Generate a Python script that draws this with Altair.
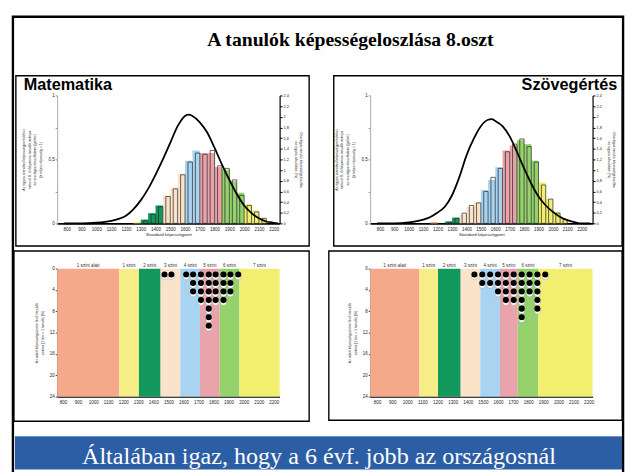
import altair as alt
import pandas as pd

# ---------------- data ----------------
LEVELS = ["1 szint alatt", "1 szint", "2 szint", "3 szint", "4 szint", "5 szint", "6 szint", "7 szint"]
LEVEL_COLORS = ["#f6a88b", "#f6ed86", "#12985c", "#fbe3c9", "#a8d4f2", "#e9a3aa", "#95d26c", "#f2ee70"]

X_TICKS = [800, 900, 1000, 1100, 1200, 1300, 1400, 1500, 1600, 1700, 1800, 1900, 2000, 2100, 2200]
SHARE_TICKS = [0, 0.25, 0.5, 0.75, 1]
PCT_TICKS = [0, 0.2, 0.4, 0.6, 0.8, 1, 1.2, 1.4, 1.6, 1.8, 2, 2.2, 2.4]
COUNT_TICKS = [0, 4, 8, 12, 16, 20, 24]
BIN_W = 50

# Matematika histogram (bin start, school bar, outline bar, level index)
M_BINS = [1250, 1300, 1350, 1400, 1450, 1500, 1550, 1600, 1650, 1700, 1750, 1800, 1850, 1900, 1950, 2000, 2050, 2100]
M_FILL = [0.012, 0.03, 0.08, 0.14, 0.22, 0.28, 0.39, 0.49, 0.57, 0.55, 0.55, 0.44, 0.42, 0.33, 0.24, 0.15, 0.10, 0.04]
M_OUTLINE = [0.0, 0.02, 0.07, 0.13, 0.21, 0.27, 0.38, 0.48, 0.55, 0.54, 0.57, 0.45, 0.43, 0.34, 0.22, 0.14, 0.09, 0.04]
M_BIN_LEVEL = [1, 2, 2, 2, 3, 3, 3, 4, 4, 5, 5, 5, 6, 6, 6, 7, 7, 7]
M_CURVE_X = [780, 900, 1000, 1100, 1150, 1200, 1250, 1300, 1350, 1400, 1450, 1500, 1550, 1600, 1625,
             1650, 1700, 1750, 1800, 1850, 1900, 1950, 2000, 2050, 2100, 2150, 2200, 2230]
M_CURVE_Y = [0.0, 0.0, 0.005, 0.02, 0.035, 0.06, 0.11, 0.18, 0.27, 0.38, 0.50, 0.63, 0.76, 0.84, 0.85,
             0.84, 0.79, 0.71, 0.59, 0.46, 0.34, 0.23, 0.14, 0.08, 0.04, 0.015, 0.005, 0.0]

# Szövegértés histogram
S_BINS = [1150, 1200, 1250, 1300, 1350, 1400, 1450, 1500, 1550, 1600, 1650, 1700, 1750, 1800, 1850, 1900, 1950, 2000, 2050]
S_FILL = [0.01, 0.0, 0.015, 0.045, 0.07, 0.13, 0.17, 0.26, 0.34, 0.44, 0.57, 0.61, 0.65, 0.62, 0.49, 0.32, 0.19, 0.09, 0.03]
S_OUTLINE = [0.0, 0.0, 0.01, 0.04, 0.08, 0.14, 0.16, 0.25, 0.36, 0.43, 0.56, 0.62, 0.66, 0.60, 0.48, 0.30, 0.19, 0.08, 0.03]
S_BIN_LEVEL = [0, 1, 2, 2, 3, 3, 3, 4, 4, 4, 5, 5, 6, 6, 6, 7, 7, 7, 7]
S_CURVE_X = [780, 900, 1000, 1100, 1150, 1200, 1250, 1300, 1350, 1400, 1450, 1500, 1550, 1575, 1600,
             1650, 1700, 1750, 1800, 1850, 1900, 1950, 2000, 2050, 2100, 2150, 2200, 2260]
S_CURVE_Y = [0.0, 0.0, 0.008, 0.03, 0.05, 0.085, 0.13, 0.22, 0.36, 0.53, 0.66, 0.76, 0.81, 0.815, 0.80,
             0.76, 0.68, 0.56, 0.43, 0.31, 0.21, 0.14, 0.09, 0.05, 0.025, 0.01, 0.0, 0.0]

# level bands (score limits) and students (one circle each) in the lower panels
M_BAND_EDGES = [761, 1173, 1304, 1448, 1579, 1710, 1841, 1972, 2239]
S_BAND_EDGES = [754, 1080, 1203, 1353, 1483, 1613, 1731, 1867, 2226]
M_DOT_X = [1474, 1520, 1618, 1664, 1716, 1768, 1814, 1866, 1912, 1964]
M_DOT_N = [1, 1, 1, 3, 4, 7, 4, 4, 3, 1]
S_DOT_X = [1444, 1496, 1548, 1600, 1652, 1704, 1757, 1809, 1861, 1913]
S_DOT_N = [1, 2, 2, 3, 4, 4, 6, 3, 5, 1]

TITLE = "A tanulók képességeloszlása 8.oszt"
BANNER = "Általában igaz, hogy a 6 évf. jobb az országosnál"
LEFT_TITLE_TOP = ["Az egyes standard képességpontokhoz", "tartozó 8. évfolyamos tanulók aránya",
                  "az országos eloszlásban (görbe)", "(a teljes népesség = 1)"]
RIGHT_TITLE_TOP = ["Országos tanulói képességeloszlás", "az egyes sávokban (%)"]
LEFT_TITLE_BOTTOM = ["Az adott képességszinten lévő tanulók", "száma (1 kör = 1 tanuló) (fő)"]

# ---------------- layout helpers ----------------
W, H = 226, 130
ROW0, ROW_STEP = 1.1, 1.6
ONE = pd.DataFrame({"k": [0]})
SANS = "Liberation Sans"
SERIF = "Liberation Serif"
DEC = "replace(format(datum.value, '~g'), '.', ',')"


def deco_rect(x, x2, y, y2, **kw):
    return alt.Chart(ONE).mark_rect(**kw).encode(
        x=alt.value(x), x2=alt.value(x2), y=alt.value(y), y2=alt.value(y2))


def deco_text(x, y, text, **kw):
    return alt.Chart(ONE).mark_text(**kw).encode(
        x=alt.value(x), y=alt.value(y), text=alt.value(text))


def frame(x, x2, y, y2):
    return deco_rect(x, x2, y, y2, fill="transparent", stroke="black", strokeWidth=1.4)


def histogram(bins, fill, outline, lvl, cx, cy, domain, subject, extra):
    d = pd.DataFrame({"x0": bins, "h": fill, "o": outline, "lvl": [LEVELS[i] for i in lvl]})
    d["x1"] = d["x0"] + BIN_W
    d["ox0"] = d["x0"] + 20
    bars_df = d[d["h"] > 0]
    out_df = d[d["o"] > 0]
    curve_df = pd.DataFrame({"x": cx, "c": cy})
    xs = alt.Scale(domain=domain, nice=False, zero=False)
    ys = alt.Scale(domain=[0, 1], nice=False)
    x_axis = alt.Axis(values=X_TICKS, format="d", grid=False, ticks=False, domainColor="black",
                      domainWidth=1.6, labelFontSize=4.6, labelPadding=3, labelOverlap=False,
                      labelFlush=False, title="Standard képességpont", titleFontSize=4.4,
                      titleFontWeight="normal", titlePadding=2)
    y_axis = alt.Axis(values=SHARE_TICKS, grid=False,
                      labelExpr="(datum.value == 0.25 || datum.value == 0.75) ? '' : " + DEC,
                      tickSize=2, tickColor="#888", domainColor="#aaa", labelFontSize=4.6,
                      labelPadding=1, title=LEFT_TITLE_TOP, titleFontSize=3.6,
                      titleFontWeight="normal", titlePadding=6)
    bars = alt.Chart(bars_df).mark_rect().encode(
        x=alt.X("x0:Q", scale=xs, axis=x_axis),
        x2="x1:Q",
        y=alt.Y("h:Q", scale=ys, axis=y_axis),
        y2=alt.datum(0),
        color=alt.Color("lvl:N", scale=alt.Scale(domain=LEVELS, range=LEVEL_COLORS), legend=None),
    )
    outl = alt.Chart(out_df).mark_rect(fill="transparent", stroke="#222", strokeWidth=0.7).encode(
        x=alt.X("ox0:Q", scale=xs, axis=x_axis),
        x2="x1:Q",
        y=alt.Y("o:Q", scale=ys, axis=y_axis),
        y2=alt.datum(0),
    )
    curve = alt.Chart(curve_df).mark_line(color="black", strokeWidth=1.8, interpolate="monotone").encode(
        x=alt.X("x:Q", scale=xs, axis=x_axis),
        y=alt.Y("c:Q", scale=ys, axis=y_axis),
    )
    right = alt.Chart(pd.DataFrame({"r": [0, 2.4]})).mark_point(opacity=0).encode(
        y=alt.Y("r:Q", scale=alt.Scale(domain=[0, 2.4], nice=False),
                axis=alt.Axis(orient="right", values=PCT_TICKS, grid=False, labelExpr=DEC,
                              tickSize=2.5, tickColor="black", domainColor="black", domainWidth=1.2,
                              labelFontSize=4, labelPadding=1, title=RIGHT_TITLE_TOP,
                              titleFontSize=3.6, titleFontWeight="normal", titlePadding=5))
    )
    main = alt.layer(*extra, subject, bars, outl, curve)
    return alt.layer(main, right).resolve_scale(y="independent").properties(width=W, height=H)


def dots_panel(edges, dot_x, dot_n, domain, extra):
    bands = pd.DataFrame({"b0": edges[:-1], "b1": edges[1:], "lvl": LEVELS})
    bands["mid"] = (bands["b0"] + bands["b1"]) / 2
    bands["y0"] = 0
    bands["y1"] = 24
    pts = pd.DataFrame([{"x": x, "y": ROW0 + k * ROW_STEP}
                        for x, n in zip(dot_x, dot_n) for k in range(n)])
    xs = alt.Scale(domain=domain, nice=False, zero=False)
    ys = alt.Scale(domain=[0, 24], reverse=True, nice=False)
    x_axis = alt.Axis(values=X_TICKS, format="d", grid=False, ticks=False, domainColor="black",
                      domainWidth=1.4, labelFontSize=4.6, labelPadding=3, labelOverlap=False,
                      labelFlush=False, title=None)
    y_axis = alt.Axis(values=COUNT_TICKS, grid=False, tickSize=2, tickColor="#444", domainColor="#444",
                      labelFontSize=4.6, labelPadding=1, title=LEFT_TITLE_BOTTOM, titleFontSize=3.6,
                      titleFontWeight="normal", titlePadding=5)
    band = alt.Chart(bands).mark_rect().encode(
        x=alt.X("b0:Q", scale=xs, axis=x_axis),
        x2="b1:Q",
        y=alt.Y("y0:Q", scale=ys, axis=y_axis),
        y2="y1:Q",
        color=alt.Color("lvl:N", scale=alt.Scale(domain=LEVELS, range=LEVEL_COLORS), legend=None),
    )
    labels = alt.Chart(bands).mark_text(fontSize=4.6, font=SANS, color="#333", baseline="bottom").encode(
        x=alt.X("mid:Q", scale=xs, axis=x_axis), y=alt.value(-1), text="lvl:N")
    white = alt.Chart(pts).mark_circle(color="white", opacity=1, size=38, stroke="#888",
                                       strokeWidth=0.4).encode(
        x=alt.X("x:Q", scale=xs, axis=x_axis), y=alt.Y("y:Q", scale=ys, axis=y_axis),
        yOffset=alt.value(2.3))
    black = alt.Chart(pts).mark_circle(color="black", opacity=1, size=38).encode(
        x=alt.X("x:Q", scale=xs, axis=x_axis), y=alt.Y("y:Q", scale=ys, axis=y_axis))
    return alt.layer(*extra, band, labels, white, black).properties(width=W, height=H)


# ---------------- panels ----------------
outer = deco_rect(-45, 575, -80, 390, fill="transparent", stroke="black", strokeWidth=2.4)
title = deco_text(298, -56, TITLE, font=SERIF, fontSize=20, fontWeight="bold", align="center",
                  baseline="middle", color="black")

tl = histogram(M_BINS, M_FILL, M_OUTLINE, M_BIN_LEVEL, M_CURVE_X, M_CURVE_Y, [735, 2240],
               deco_text(-34, -11, "Matematika", font=SANS, fontSize=16.5, fontWeight="bold",
                         align="left", baseline="middle", color="black"),
               [outer, title, frame(-42, 256, -20, 153)])
tr = histogram(S_BINS, S_FILL, S_OUTLINE, S_BIN_LEVEL, S_CURVE_X, S_CURVE_Y, [732, 2275],
               deco_text(251, -11, "Szövegértés", font=SANS, fontSize=16.5, fontWeight="bold",
                         align="right", baseline="middle", color="black"),
               [frame(-37, 256, -20, 153)])
bl = dots_panel(M_BAND_EDGES, M_DOT_X, M_DOT_N, [761, 2239], [frame(-44, 256, -18, 155)])
br = dots_panel(S_BAND_EDGES, S_DOT_X, S_DOT_N, [754, 2226], [frame(-42, 256, -18, 154)])

banner = alt.layer(
    deco_rect(-43, 574, -6, 28, fill="#2c5ea5"),
    deco_rect(-43, 574, -6, -5, fill="#6f93c7"),
    deco_text(266, 15, BANNER, font=SERIF, fontSize=24.5, color="white", align="center", baseline="middle"),
).properties(width=W, height=26)

chart = alt.concat(tl, tr, bl, br, banner, columns=2,
                   spacing={"row": 46, "column": 92}, bounds="flush").properties(
    padding=3, background="white"
).configure_view(strokeWidth=0).configure_axis(
    labelFont=SANS, titleFont=SANS, labelColor="#222", titleColor="#222"
)

chart.save("out.html", embed_options={"renderer": "svg", "actions": False})
